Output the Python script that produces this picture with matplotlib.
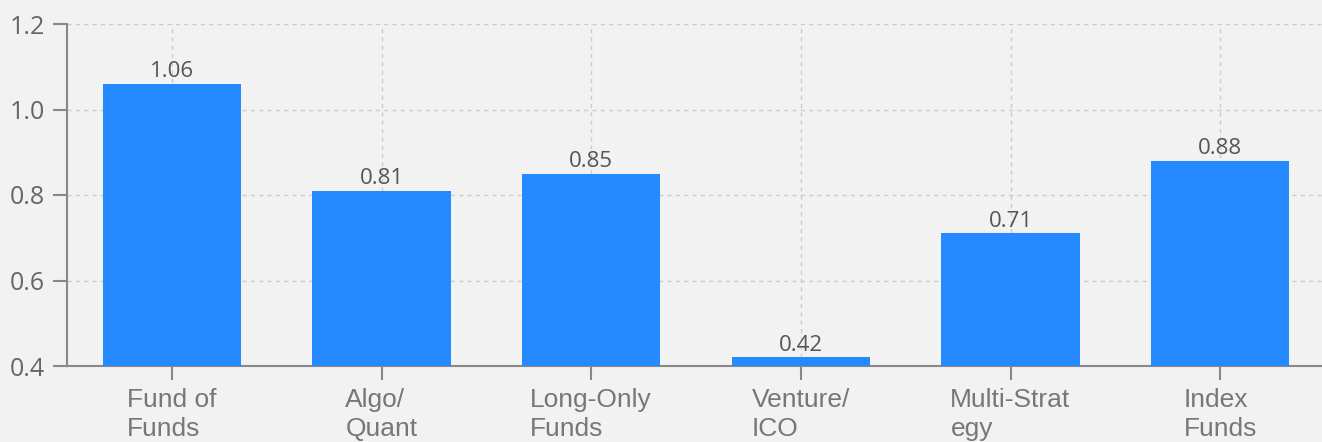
import matplotlib
matplotlib.use('Agg')

import numpy as np
from matplotlib import pyplot as plt

categories = ['Fund of\nFunds', 'Algo/\nQuant', 'Long-Only\nFunds', 'Venture/\nICO', 'Multi-Strat\negy', 'Index\nFunds']
values = [1.06, 0.81, 0.85, 0.42, 0.71, 0.88]
value_labels = ['1.06', '0.81', '0.85', '0.42', '0.71', '0.88']
yticks = [0.4, 0.6, 0.8, 1.0, 1.2]

bg = '#f2f2f2'
fig = plt.figure(figsize=(13.22, 4.42), dpi=100, facecolor=bg)
ax = fig.add_axes([67/1322, 76/442, 1258/1322, 342/442], facecolor=bg)

x = np.arange(len(categories))
ax.bar(x, [v - 0.4 for v in values], bottom=0.4, width=0.66, color='#2589ff', zorder=3)
for xi, v, t in zip(x, values, value_labels):
    ax.text(xi, v + 0.004, t, ha='center', va='bottom', fontsize=16,
            color='#555555', family='Open Sans', zorder=4)

ax.set_xlim(-0.5, len(categories) - 0.5)
ax.set_ylim(0.4, 1.2)
ax.set_yticks(yticks)
ax.set_yticklabels(['%.1f' % t for t in yticks], family='Open Sans', fontsize=18, color='#666666')
ax.set_xticks(x)
ax.set_xticklabels(categories, family='Liberation Sans', fontsize=19, color='#777777',
                   multialignment='left', linespacing=1.25)

ax.grid(True, color='#cccccc', linestyle=(0, (3, 3)), linewidth=1, zorder=0)
for s in ['top', 'right']:
    ax.spines[s].set_visible(False)
for s in ['left', 'bottom']:
    ax.spines[s].set_color('#888888')
    ax.spines[s].set_linewidth(1.5)
ax.tick_params(axis='both', length=10, width=1.5, color='#888888', pad=6)

plt.savefig('out.png', facecolor=bg)
